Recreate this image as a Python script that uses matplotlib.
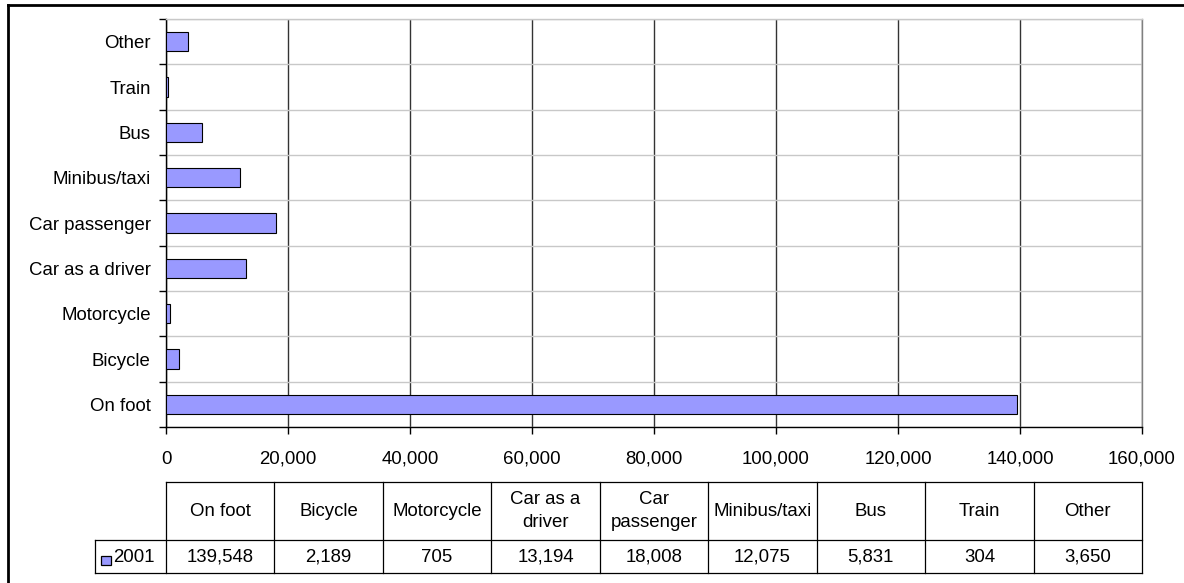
import matplotlib
matplotlib.use("Agg")
import matplotlib.pyplot as plt
import numpy as np

plt.rcParams['font.family'] = ['Liberation Sans', 'DejaVu Sans']

# data, bottom-to-top order as in the chart
modes = ["On foot", "Bicycle", "Motorcycle", "Car as a driver", "Car passenger",
         "Minibus/taxi", "Bus", "Train", "Other"]
header_labels = ["On foot", "Bicycle", "Motorcycle", "Car as a\ndriver", "Car\npassenger",
                 "Minibus/taxi", "Bus", "Train", "Other"]
values_2001 = [139548, 2189, 705, 13194, 18008, 12075, 5831, 304, 3650]
series_name = "2001"
x_ticks = [0, 20000, 40000, 60000, 80000, 100000, 120000, 140000, 160000]

W, H = 1184, 583
bar_color = "#9999ff"
fs = 13.4

fig = plt.figure(figsize=(W / 100, H / 100), dpi=100)

# plot area in pixels
left, right, top, bottom = 166, 1142, 19, 427
ax = fig.add_axes([left / W, 1 - bottom / H, (right - left) / W, (bottom - top) / H])

y = np.arange(len(modes))
ax.barh(y, values_2001, height=0.42, color=bar_color, edgecolor="black", linewidth=0.8, zorder=3)

ax.set_xlim(0, 160000)
ax.set_ylim(-0.5, len(modes) - 0.5)
ax.set_xticks(x_ticks)
ax.set_xticklabels([f"{v:,}" for v in x_ticks], fontsize=fs)
ax.set_yticks(y)
ax.set_yticklabels(modes, fontsize=fs)
ax.set_yticks(np.arange(len(modes) + 1) - 0.5, minor=True)

ax.tick_params(axis="y", which="major", length=0, pad=11)
ax.tick_params(axis="y", which="minor", length=5, width=1, direction="out", color="black")
ax.tick_params(axis="x", which="major", length=5, width=1, direction="out", pad=12)

ax.grid(axis="x", which="major", color="#333333", linewidth=1, zorder=1)
ax.grid(axis="y", which="minor", color="#c8c8c8", linewidth=1, zorder=1)

ax.spines["left"].set_color("black")
ax.spines["bottom"].set_color("black")
ax.spines["right"].set_color("#808080")
ax.spines["top"].set_color("#c8c8c8")
for s in ax.spines.values():
    s.set_linewidth(1)

# overlay for the outer frame and the data table, in pixel coordinates
ov = fig.add_axes([0, 0, 1, 1])
ov.set_xlim(0, W)
ov.set_ylim(H, 0)
ov.axis("off")
ov.patch.set_alpha(0)

ov.plot([8, W], [5, 5], color="black", lw=2)
ov.plot([8, 8], [5, H], color="black", lw=2)

t_top, t_mid, t_bot = 482, 540, 573
label_left = 95
edges = np.linspace(left, right, len(modes) + 1)
lw = 0.9
ov.plot([left, right], [t_top, t_top], color="black", lw=lw)
ov.plot([label_left, right], [t_mid, t_mid], color="black", lw=lw)
ov.plot([label_left, right], [t_bot, t_bot], color="black", lw=lw)
ov.plot([label_left, label_left], [t_mid, t_bot], color="black", lw=lw)
for e in edges:
    ov.plot([e, e], [t_top, t_bot], color="black", lw=lw)

for i, (lab, v) in enumerate(zip(header_labels, values_2001)):
    cx = (edges[i] + edges[i + 1]) / 2
    ov.text(cx, (t_top + t_mid) / 2, lab, ha="center", va="center", fontsize=fs, linespacing=1.4)
    ov.text(cx, (t_mid + t_bot) / 2 + 1, f"{v:,}", ha="center", va="center", fontsize=fs)

ov.add_patch(plt.Rectangle((101, 555.5), 9.5, 9.5, facecolor=bar_color, edgecolor="black", lw=0.9))
ov.text(113, (t_mid + t_bot) / 2 + 1, series_name, ha="left", va="center", fontsize=fs)

fig.savefig("out.png", dpi=100)
